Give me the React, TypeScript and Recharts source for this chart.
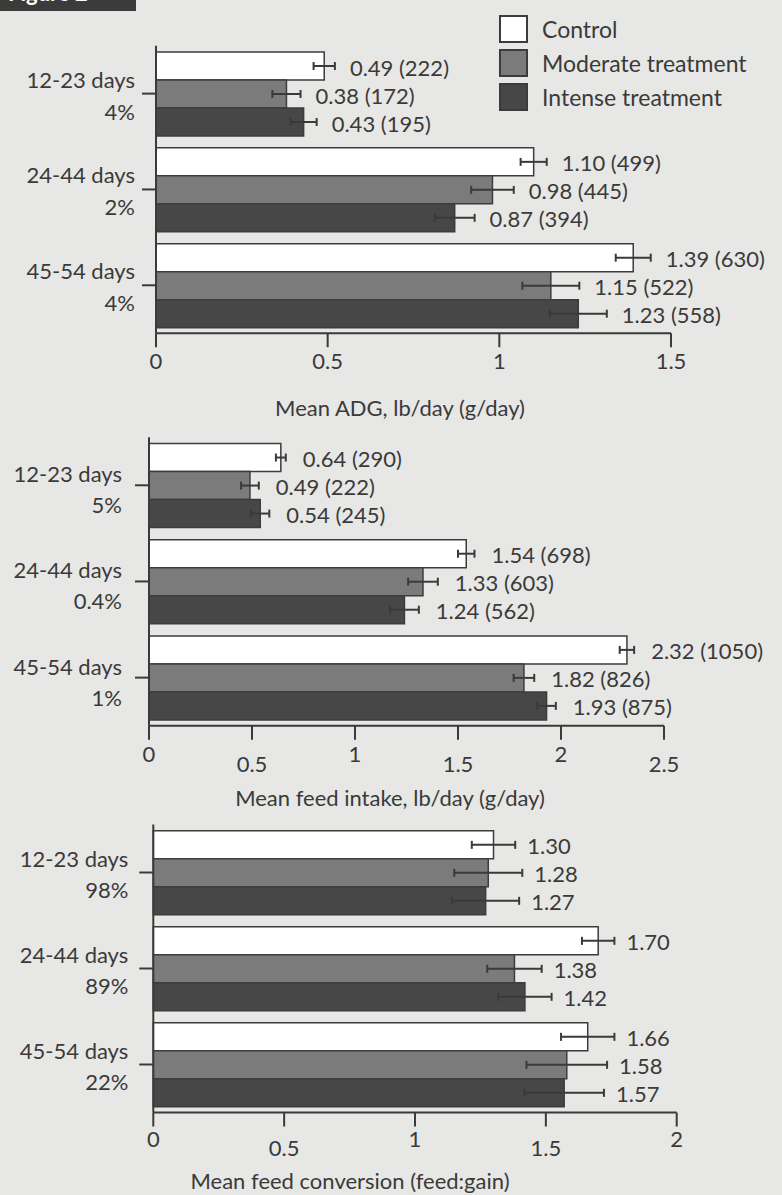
import React from 'react';
import { BarChart, Bar, XAxis, YAxis, ErrorBar, LabelList } from 'recharts';

const periods = ['12-23 days', '24-44 days', '45-54 days'];

// Mean ADG, lb/day (g/day)
const adgPct = ['4%', '2%', '4%'];
const adgControl = [0.49, 1.1, 1.39];
const adgControlG = [222, 499, 630];
const adgModerate = [0.38, 0.98, 1.15];
const adgModerateG = [172, 445, 522];
const adgIntense = [0.43, 0.87, 1.23];
const adgIntenseG = [195, 394, 558];
const adgControlErr = [0.031, 0.038, 0.051];
const adgModerateErr = [0.041, 0.062, 0.083];
const adgIntenseErr = [0.038, 0.058, 0.083];
const adgTicks = [0, 0.5, 1, 1.5];

// Mean feed intake, lb/day (g/day)
const intakePct = ['5%', '0.4%', '1%'];
const intakeControl = [0.64, 1.54, 2.32];
const intakeControlG = [290, 698, 1050];
const intakeModerate = [0.49, 1.33, 1.82];
const intakeModerateG = [222, 603, 826];
const intakeIntense = [0.54, 1.24, 1.93];
const intakeIntenseG = [245, 562, 875];
const intakeControlErr = [0.024, 0.04, 0.035];
const intakeModerateErr = [0.043, 0.072, 0.05];
const intakeIntenseErr = [0.044, 0.07, 0.045];
const intakeTicks = [0, 0.5, 1, 1.5, 2, 2.5];

// Mean feed conversion (feed:gain)
const convPct = ['98%', '89%', '22%'];
const convControl = [1.3, 1.7, 1.66];
const convModerate = [1.28, 1.38, 1.58];
const convIntense = [1.27, 1.42, 1.57];
const convControlErr = [0.083, 0.062, 0.102];
const convModerateErr = [0.13, 0.104, 0.154];
const convIntenseErr = [0.128, 0.102, 0.152];
const convTicks = [0, 0.5, 1, 1.5, 2];

const FONT = "Lato, 'Open Sans', sans-serif";
const INK = '#3a3a3a';
const BG = '#e7e7e5';
const FS = 22;

const series = [
  { key: 'control', name: 'Control', fill: '#ffffff' },
  { key: 'moderate', name: 'Moderate treatment', fill: '#7b7b7b' },
  { key: 'intense', name: 'Intense treatment', fill: '#474747' },
];

const fmt = (v: number, g?: number) => (g === undefined ? v.toFixed(2) : `${v.toFixed(2)} (${g})`);

function buildRows(vals: number[][], errs: number[][], grams?: number[][]) {
  return periods.map((period, i) => {
    const row: any = { period };
    series.forEach((s, k) => {
      row[s.key] = vals[k][i];
      row[s.key + 'Err'] = errs[k][i];
      row[s.key + 'Label'] = fmt(vals[k][i], grams ? grams[k][i] : undefined);
    });
    return row;
  });
}

const adgRows = buildRows(
  [adgControl, adgModerate, adgIntense],
  [adgControlErr, adgModerateErr, adgIntenseErr],
  [adgControlG, adgModerateG, adgIntenseG]
);
const intakeRows = buildRows(
  [intakeControl, intakeModerate, intakeIntense],
  [intakeControlErr, intakeModerateErr, intakeIntenseErr],
  [intakeControlG, intakeModerateG, intakeIntenseG]
);
const convRows = buildRows(
  [convControl, convModerate, convIntense],
  [convControlErr, convModerateErr, convIntenseErr]
);

// value label placed just after the error bar
const valueLabel = (rows: any[], key: string, gap: number) => (props: any) => {
  const vb = props.viewBox || props;
  const { x, y, width, height } = vb;
  const row = rows[props.index];
  if (!row) return null;
  const errPx = (width / row[key]) * row[key + 'Err'];
  return (
    <text
      x={x + width + errPx + gap}
      y={y + height / 2 + 1}
      dominantBaseline="central"
      fill={INK}
      fontFamily={FONT}
      fontSize={FS}
    >
      {props.value}
    </text>
  );
};

function Panel(p: any) {
  const xAxisHeight = p.height - p.marginTop - p.plotHeight;
  const rightMargin = 782 - p.plotLeft - p.plotWidth;

  const CategoryTick = (t: any) => {
    const i = periods.indexOf(t.payload.value);
    return (
      <g fill={INK} fontFamily={FONT} fontSize={FS}>
        <text x={t.x + p.catDx} y={t.y + p.line1} textAnchor="end">{t.payload.value}</text>
        <text x={t.x + p.catDx} y={t.y + p.line2} textAnchor="end">{p.pct[i]}</text>
      </g>
    );
  };

  const NumberTick = (t: any) => {
    const half = t.payload.value % 1 !== 0;
    return (
      <text
        x={t.x}
        y={t.y + (half ? p.halfBase : p.intBase)}
        textAnchor="middle"
        dominantBaseline="central"
        fill={INK}
        fontFamily={FONT}
        fontSize={FS}
      >
        {String(t.payload.value)}
      </text>
    );
  };

  const Title = (l: any) => {
    const vb = l.viewBox || {};
    return (
      <text
        x={p.titleX}
        y={vb.y + p.titleDy}
        textAnchor="middle"
        dominantBaseline="central"
        fill={INK}
        fontFamily={FONT}
        fontSize={FS}
      >
        {p.title}
      </text>
    );
  };

  return (
    <div style={{ position: 'absolute', left: 0, top: p.top }}>
      <BarChart
        width={782}
        height={p.height}
        data={p.rows}
        layout="vertical"
        margin={{ top: p.marginTop, right: rightMargin, bottom: 0, left: 0 }}
        barCategoryGap="6.6%"
        barGap={0}
      >
        <XAxis
          type="number"
          domain={[0, p.ticks[p.ticks.length - 1]]}
          ticks={p.ticks}
          interval={0}
          height={xAxisHeight}
          tickSize={14}
          axisLine={{ stroke: INK, strokeWidth: 2 }}
          tickLine={{ stroke: INK, strokeWidth: 2 }}
          tick={<NumberTick />}
          label={{ content: Title }}
        />
        <YAxis
          type="category"
          dataKey="period"
          width={p.plotLeft}
          interval={0}
          tickSize={14}
          axisLine={{ stroke: INK, strokeWidth: 2 }}
          tickLine={{ stroke: INK, strokeWidth: 2 }}
          tick={<CategoryTick />}
        />
        {series.map((s) => (
          <Bar
            key={s.key}
            dataKey={s.key}
            name={s.name}
            fill={s.fill}
            stroke="#3c3c3c"
            strokeWidth={1.5}
            isAnimationActive={false}
          >
            <ErrorBar
              dataKey={s.key + 'Err'}
              direction="x"
              width={4}
              stroke={INK}
              strokeWidth={2}
              isAnimationActive={false}
            />
            <LabelList dataKey={s.key + 'Label'} content={valueLabel(p.rows, s.key, p.labelGap)} />
          </Bar>
        ))}
      </BarChart>
    </div>
  );
}

export default function App() {
  return (
    <div
      style={{
        position: 'absolute',
        left: 0,
        top: 0,
        width: 782,
        height: 1195,
        background: BG,
        overflow: 'hidden',
        fontFamily: FONT,
        color: INK,
      }}
    >
      {/* cut-off figure tag */}
      <div
        style={{
          position: 'absolute',
          left: 0,
          top: 0,
          width: 136,
          height: 11,
          background: '#3b3b3b',
          overflow: 'hidden',
        }}
      >
        <span
          style={{
            position: 'absolute',
            left: 8,
            top: -21,
            color: '#ffffff',
            fontWeight: 700,
            fontSize: 22,
            whiteSpace: 'nowrap',
          }}
        >
          Figure 2
        </span>
      </div>

      {/* Legend */}
      <div style={{ position: 'absolute', left: 499, top: 12, zIndex: 2 }}>
        {series.map((s) => (
          <div key={s.key} style={{ display: 'flex', alignItems: 'center', height: 34 }}>
            <div
              style={{
                width: 25,
                height: 24,
                background: s.fill,
                border: '2px solid #3c3c3c',
              }}
            />
            <span style={{ marginLeft: 14, fontSize: 23, lineHeight: '28px' }}>{s.name}</span>
          </div>
        ))}
      </div>

      <Panel
        top={0}
        height={430}
        marginTop={45.7}
        plotLeft={156}
        plotWidth={515}
        plotHeight={287.5}
        rows={adgRows}
        pct={adgPct}
        ticks={adgTicks}
        intBase={11}
        halfBase={11}
        title="Mean ADG, lb/day (g/day)"
        titleX={400}
        titleDy={74}
        labelGap={15}
        catDx={-5}
        line1={-6}
        line2={26}
      />
      <Panel
        top={430}
        height={390}
        marginTop={7.2}
        plotLeft={149}
        plotWidth={515}
        plotHeight={288.5}
        rows={intakeRows}
        pct={intakePct}
        ticks={intakeTicks}
        intBase={12}
        halfBase={22}
        title="Mean feed intake, lb/day (g/day)"
        titleX={390}
        titleDy={72}
        labelGap={17}
        catDx={-11}
        line1={-3}
        line2={28}
      />
      <Panel
        top={820}
        height={375}
        marginTop={4.5}
        plotLeft={153.3}
        plotWidth={523.4}
        plotHeight={288}
        rows={convRows}
        pct={convPct}
        ticks={convTicks}
        intBase={10}
        halfBase={19}
        title="Mean feed conversion (feed:gain)"
        titleX={350}
        titleDy={68}
        labelGap={12}
        catDx={-9}
        line1={-6}
        line2={25}
      />
    </div>
  );
}
